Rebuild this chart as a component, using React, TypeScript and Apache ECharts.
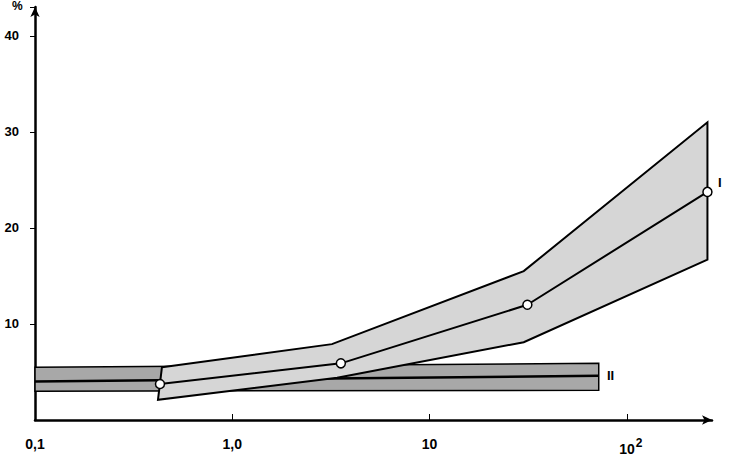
import React, { useEffect, useRef } from "react";
import * as echarts from "echarts";

// Tick labels
const xTickValues = [0.1, 1, 10, 100];
const xTickLabels = ["0,1", "1,0", "10", "{pad|10}{sup|2}"];
const yTickValues = [10, 20, 30, 40];

// Band I (light stippled band) – upper and lower bounds and the centre line
const band1Upper: number[][] = [[0.44, 5.5], [3.2, 7.9], [30, 15.5], [256, 31.0]];
const band1Lower: number[][] = [[0.42, 2.1], [3.4, 4.4], [30, 8.1], [256, 16.7]];
const band1Center: number[][] = [[0.43, 3.75], [3.55, 5.9], [31.3, 12.0], [256, 23.75]];

// Band II (dark band)
const band2Upper: number[][] = [[0.1, 5.5], [72, 5.9]];
const band2Lower: number[][] = [[0.1, 3.0], [72, 3.1]];
const band2Center: number[][] = [[0.1, 4.0], [72, 4.6]];

const FONT = "Liberation Sans";

function bandSeries(upper: number[][], lower: number[][], fill: string, lw: number, z: number) {
  const pts = [...upper, ...lower.slice().reverse()];
  return {
    type: "custom",
    coordinateSystem: "cartesian2d",
    z,
    silent: true,
    data: [upper[0]],
    renderItem: (_p: any, api: any) => ({
      type: "polygon",
      shape: { points: pts.map((p) => api.coord(p)) },
      style: { fill, stroke: "#000", lineWidth: lw },
    }),
  };
}

export default function App() {
  const ref = useRef<HTMLDivElement>(null);
  useEffect(() => {
    if (!ref.current) return;
    const chart = echarts.init(ref.current, null, { renderer: "svg" });
    const xText = { color: "#000", fontFamily: FONT, fontWeight: "bold", fontSize: 14 };
    const yText = { color: "#000", fontFamily: FONT, fontWeight: "bold", fontSize: 13 };
    chart.setOption({
      animation: false,
      backgroundColor: "#fff",
      grid: { left: 35, right: 22, top: 7, bottom: 55, containLabel: false },
      xAxis: {
        type: "log",
        logBase: 10,
        min: 0.1,
        max: 270,
        splitLine: { show: false },
        axisLine: {
          lineStyle: { color: "#000", width: 2.5 },
          symbol: ["none", "arrow"],
          symbolSize: [7, 10],
        },
        axisTick: { show: true, inside: true, length: 6, lineStyle: { color: "#000", width: 1 } },
        minorTick: { show: false },
        axisLabel: {
          ...xText,
          margin: 17,
          showMaxLabel: false,
          formatter: (v: number) => {
            for (let i = 0; i < xTickValues.length; i++) {
              if (Math.abs(Math.log10(v) - Math.log10(xTickValues[i])) < 0.01) return xTickLabels[i];
            }
            return "";
          },
          rich: {
            pad: { ...xText, padding: [0, 0, 0, 8] },
            sup: { ...xText, fontSize: 12, padding: [0, 0, 11, 1] },
          },
        },
      },
      yAxis: {
        type: "value",
        min: 0,
        max: 43,
        interval: 10,
        splitLine: { show: false },
        axisLine: {
          lineStyle: { color: "#000", width: 2.5 },
          symbol: ["none", "arrow"],
          symbolSize: [7, 10],
        },
        axisTick: { show: true, inside: false, length: 5, lineStyle: { color: "#000", width: 1 } },
        axisLabel: {
          ...yText,
          margin: 16,
          showMinLabel: false,
          formatter: (v: number) => (yTickValues.includes(v) ? String(v) : ""),
        },
      },
      graphic: [
        { type: "text", left: 12, top: 0, style: { text: "%", fill: "#000", font: `bold 12px ${FONT}` } },
        { type: "text", left: 718, top: 176, style: { text: "I", fill: "#000", font: `bold 13px ${FONT}` } },
        { type: "text", left: 607, top: 369, style: { text: "II", fill: "#000", font: `bold 13px ${FONT}` } },
      ],
      series: [
        bandSeries(band2Upper, band2Lower, "#a8a8a8", 1.5, 1),
        {
          type: "line",
          z: 2,
          data: band2Center,
          symbol: "none",
          lineStyle: { color: "#000", width: 2.5 },
          silent: true,
        },
        bandSeries(band1Upper, band1Lower, "#d6d6d6", 2, 3),
        {
          type: "line",
          z: 4,
          data: band1Center,
          symbol: "circle",
          symbolSize: 9,
          showSymbol: true,
          lineStyle: { color: "#000", width: 2 },
          itemStyle: { color: "#fff", borderColor: "#000", borderWidth: 1.5 },
          silent: true,
        },
      ],
    });
    return () => chart.dispose();
  }, []);
  return <div ref={ref} style={{ width: 734, height: 475, position: "absolute", left: 0, top: 0 }} />;
}
